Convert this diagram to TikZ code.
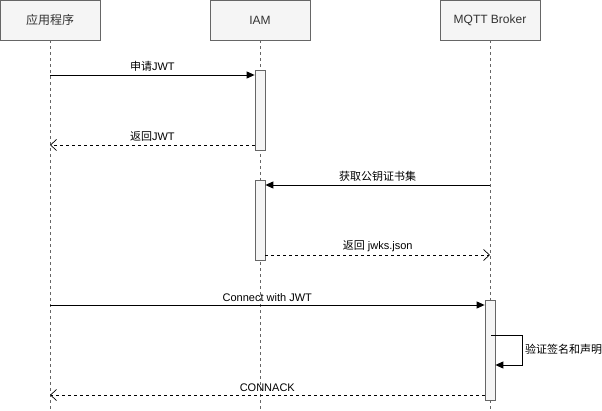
\documentclass[tikz,border=0pt]{standalone}
\usepackage{fontspec}
\setmainfont{Liberation Sans}
\newfontfamily\cjk{Noto Sans CJK SC}
\usetikzlibrary{arrows.meta,positioning,calc}
\definecolor{boxfill}{HTML}{F5F5F5}
\definecolor{boxline}{HTML}{666666}
\definecolor{txt}{HTML}{333333}
\tikzset{
  actor/.style={draw=boxline,fill=boxfill,minimum width=100pt,minimum height=40pt,inner sep=0pt,font=\fontsize{12}{14}\selectfont,text=txt},
  lifeline/.style={draw=boxline,dash pattern=on 3pt off 3pt,line width=0.6pt},
  actbox/.style={draw=boxline,fill=boxfill,minimum width=10pt,inner sep=0pt,line width=0.8pt},
  msg/.style={draw=black,line width=0.9pt,-{Triangle[length=8pt,width=7pt]}},
  ret/.style={draw=black,line width=0.7pt,dash pattern=on 3pt off 3pt,-{Straight Barb[length=6pt,width=11pt,line width=0.7pt]}},
  lbl/.style={font=\fontsize{11}{13}\selectfont,text=black,inner sep=1pt}
}
\begin{document}
\begin{tikzpicture}[x=1pt,y=-1pt]
\useasboundingbox (0,0) rectangle (602,411);
% actors
\node[actor] (app) at (50,20) {\cjk 应用程序};
\node[actor] (iam) at (260,20) {IAM};
\node[actor] (mq) at (490,20) {MQTT Broker};
% lifeline ends
\coordinate (append) at (50,410);
\coordinate (iamend) at (260,410);
\coordinate (mqend) at (490,410);
\draw[lifeline] (app.south) -- (append);
\draw[lifeline] (iam.south) -- (iamend);
\draw[lifeline] (mq.south) -- (mqend);
% activations
\node[actbox,minimum height=80pt] (a1) at (260,110) {};
\node[actbox,minimum height=80pt] (a2) at (260,220) {};
\node[actbox,minimum height=100pt] (a3) at (490,350) {};
% message anchors on lifelines
\coordinate (p1) at (50,75);
\coordinate (p2) at (50,145);
\coordinate (p3) at (490,185);
\coordinate (p4) at (490,255);
\coordinate (p5) at (50,305);
\coordinate (p6) at (50,395);
% messages
\draw[msg] (p1) -- (p1 -| a1.west) node[lbl,midway,above=2pt] {\cjk 申请\rmfamily JWT};
\draw[ret] (p2 -| a1.west) -- (p2) node[lbl,midway,above=2pt] {\cjk 返回\rmfamily JWT};
\draw[msg] (p3) -- (p3 -| a2.east) node[lbl,midway,above=2pt] {\cjk 获取公钥证书集};
\draw[ret] (p4 -| a2.east) -- (p4) node[lbl,midway,above=2pt] {\cjk 返回\rmfamily{} jwks.json};
\draw[msg] (p5) -- (p5 -| a3.west) node[lbl,midway,above=2pt] {Connect with JWT};
% self call
\coordinate (s1) at (491,335);
\coordinate (s2) at (522,365);
\draw[msg] (s1) -| (s2) -- (s2 -| a3.east) ;
\node[lbl,anchor=west] (selflbl) at (524,349) {\cjk 验证签名和声明};
\draw[ret] (p6 -| a3.west) -- (p6) node[lbl,midway,above=2pt] {CONNACK};
\end{tikzpicture}
\end{document}
